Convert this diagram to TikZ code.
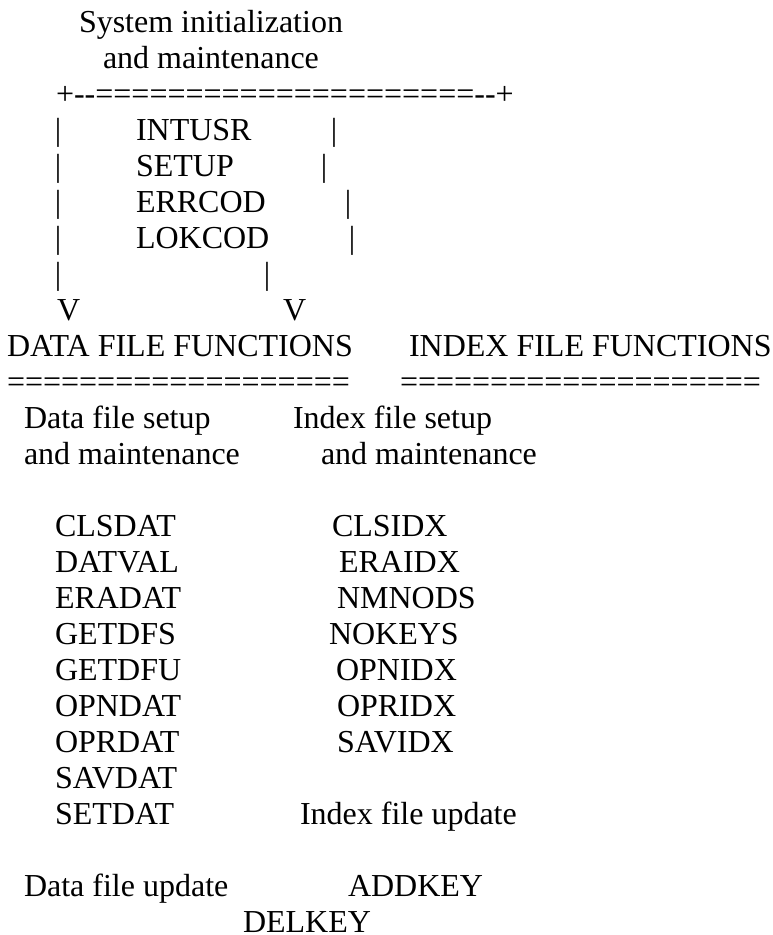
\documentclass[tikz,border=0pt]{standalone}
\usepackage{fontspec}
\setmainfont{Liberation Serif}
\begin{document}
\begin{tikzpicture}[x=1pt,y=-1pt,
  txt/.style={anchor=base west,inner sep=0pt,outer sep=0pt,font=\fontsize{32}{36}\selectfont},
  bar/.style={anchor=base,inner sep=0pt,outer sep=0pt,font=\fontsize{32}{36}\selectfont}]
\useasboundingbox (0,0) rectangle (773,935);
% header
\node[txt] (sys1) at (79,32) {System initialization};
\node[txt] (sys2) at (103,68) {and maintenance};
\node[txt] (border) at (56,104) {+-{}-=====================-{}-+};
% box rows
\node[bar] (lb1) at (58,140) {|};
\node[txt] (intusr) at (136,140) {INTUSR};
\node[bar] (rb1) at (334,140) {|};
\node[bar] (lb2) at (58,176) {|};
\node[txt] (setup) at (136,176) {SETUP};
\node[bar] (rb2) at (324,176) {|};
\node[bar] (lb3) at (58,212) {|};
\node[txt] (errcod) at (136,212) {ERRCOD};
\node[bar] (rb3) at (348,212) {|};
\node[bar] (lb4) at (58,248) {|};
\node[txt] (lokcod) at (136,248) {LOKCOD};
\node[bar] (rb4) at (352,248) {|};
\node[bar] (lb5) at (58,284) {|};
\node[bar] (rb5) at (267,284) {|};
\node[txt] (v1) at (57,320) {V};
\node[txt] (v2) at (283,320) {V};
% section headers
\node[txt] (dff) at (7,356) {DATA FILE FUNCTIONS};
\node[txt] (iff) at (409,356) {INDEX FILE FUNCTIONS};
\node[txt] (eq1) at (7,392) {===================};
\node[txt] (eq2) at (400,392) {====================};
\node[txt] (dfs1) at (24,428) {Data file setup};
\node[txt] (dfs2) at (24,464) {and maintenance};
\node[txt] (ifs1) at (293,428) {Index file setup};
\node[txt] (ifs2) at (321,464) {and maintenance};
% data file list
\node[txt] (clsdat) at (55,536) {CLSDAT};
\node[txt] (datval) at (55,572) {DATVAL};
\node[txt] (eradat) at (55,608) {ERADAT};
\node[txt] (getdfs) at (55,644) {GETDFS};
\node[txt] (getdfu) at (55,680) {GETDFU};
\node[txt] (opndat) at (55,716) {OPNDAT};
\node[txt] (oprdat) at (55,752) {OPRDAT};
\node[txt] (savdat) at (55,788) {SAVDAT};
\node[txt] (setdat) at (55,824) {SETDAT};
% index file list
\node[txt] (clsidx) at (332,536) {CLSIDX};
\node[txt] (eraidx) at (339,572) {ERAIDX};
\node[txt] (nmnods) at (337,608) {NMNODS};
\node[txt] (nokeys) at (329,644) {NOKEYS};
\node[txt] (opnidx) at (336,680) {OPNIDX};
\node[txt] (opridx) at (337,716) {OPRIDX};
\node[txt] (savidx) at (337,752) {SAVIDX};
\node[txt] (ifu) at (300,824) {Index file update};
% updates
\node[txt] (dfu) at (24,896) {Data file update};
\node[txt] (addkey) at (348,896) {ADDKEY};
\node[txt] (delkey) at (243,932) {DELKEY};
\end{tikzpicture}
\end{document}
